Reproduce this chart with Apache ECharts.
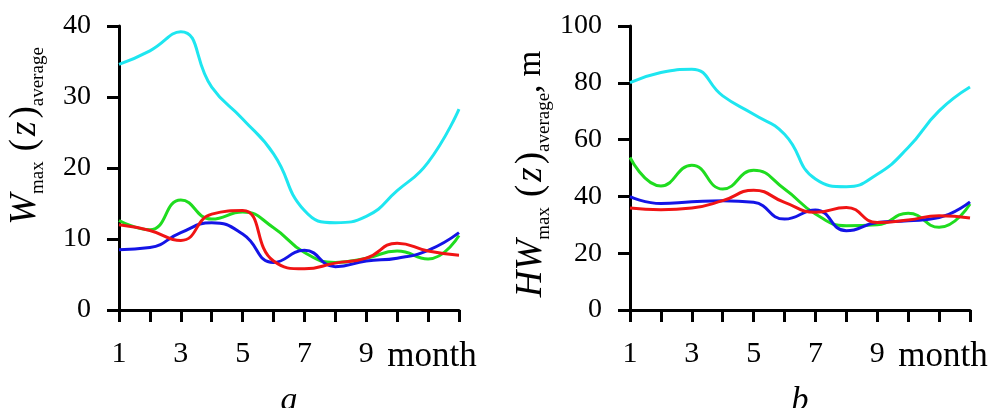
<!DOCTYPE html>
<html>
<head>
<meta charset="utf-8">
<script src="https://cdn.jsdelivr.net/npm/echarts@6/dist/echarts.min.js"></script>
<style>
  html, body { margin: 0; padding: 0; background: #fff; }
  #chart1 { width: 994px; height: 408px; }
</style>
</head>
<body>
<div id="chart1"></div>
<script>
// 月份与刻度标签
const months = [1, 2, 3, 4, 5, 6, 7, 8, 9, 10, 11, 12];
const tickLabels = ['1', '', '3', '', '5', '', '7', '', '9', '', 'month', ''];

// 图 a：W_max(z)_average
const cyanA  = [34.6, 36.5, 39.2, 31.4, 26.9, 22.0, 14.0, 12.3, 13.2, 16.8, 20.8, 28.3];
const greenA = [12.6, 11.3, 15.5, 12.8, 13.8, 11.6, 8.1, 6.7, 7.3, 8.3, 7.2, 10.5];
const blueA  = [8.5, 8.8, 10.9, 12.3, 10.7, 6.7, 8.4, 6.1, 6.9, 7.3, 8.4, 10.9];
const redA   = [12.0, 11.2, 9.8, 13.5, 14.0, 6.9, 5.8, 6.6, 7.3, 9.4, 8.3, 7.7];

// 图 b：HW_max(z)_average, m
const cyanB  = [80.1, 83.6, 84.8, 75.4, 68.9, 61.9, 46.1, 43.4, 47.8, 57.2, 70.1, 78.5];
const greenB = [53.7, 43.7, 51.0, 42.6, 49.2, 42.6, 33.8, 29.7, 30.0, 34.1, 29.1, 37.3];
const blueB  = [39.9, 37.5, 38.1, 38.5, 37.9, 32.0, 35.2, 27.9, 30.8, 31.4, 32.6, 38.1];
const redB   = [35.9, 35.3, 35.9, 38.5, 42.2, 37.9, 34.4, 36.1, 30.8, 31.7, 33.2, 32.4];

const colors = ['#1ee6f0', '#1fdc1f', '#1414e6', '#f01414'];
const serif = 'Liberation Serif';

function pairs(values) {
    return months.map((m, i) => [m, values[i]]);
}

function lineSeries(values, color, idx) {
    return {
        type: 'line',
        xAxisIndex: idx,
        yAxisIndex: idx,
        data: pairs(values),
        smooth: true,
        showSymbol: false,
        lineStyle: { color: color, width: 3 },
        itemStyle: { color: color }
    };
}

function xAxisFor(idx, letter) {
    return {
        type: 'value',
        gridIndex: idx,
        min: 1,
        max: 12,
        interval: 1,
        name: letter,
        nameLocation: 'middle',
        nameGap: 74,
        nameTextStyle: { fontFamily: serif, fontStyle: 'italic', fontSize: 34, color: '#000' },
        axisLine: { lineStyle: { color: '#000', width: 3 } },
        axisTick: { length: 12, lineStyle: { color: '#000', width: 3 } },
        splitLine: { show: false },
        axisLabel: {
            margin: 29,
            color: '#000',
            fontFamily: serif,
            fontSize: 30,
            showMinLabel: true,
            showMaxLabel: true,
            formatter: function (v) {
                const t = tickLabels[v - 1] || '';
                return t === 'month' ? '{m|month}' : t;
            },
            rich: {
                m: { fontFamily: serif, fontSize: 35, color: '#000', padding: [0, 0, 4, 8] }
            }
        }
    };
}

function yAxisFor(idx, max, step) {
    return {
        type: 'value',
        gridIndex: idx,
        min: 0,
        max: max,
        interval: step,
        axisLine: { show: true, lineStyle: { color: '#000', width: 3 } },
        axisTick: { show: true, length: 12, lineStyle: { color: '#000', width: 3 } },
        splitLine: { show: false },
        axisLabel: { margin: 28, color: '#000', fontFamily: serif, fontSize: 28 }
    };
}

const titleRich = {
    i: { fontFamily: serif, fontStyle: 'italic', fontSize: 37, lineHeight: 46, fill: '#000' },
    s: { fontFamily: serif, fontSize: 19, lineHeight: 19, verticalAlign: 'bottom', fill: '#000' },
    p: { fontFamily: serif, fontSize: 37, lineHeight: 46, fill: '#000', padding: [0, 3, 0, 10] },
    q: { fontFamily: serif, fontSize: 37, lineHeight: 46, fill: '#000', padding: [0, 0, 0, 3] },
    u: { fontFamily: serif, fontSize: 33, lineHeight: 46, fill: '#000' }
};

function initChart() {
    const chart = echarts.init(document.getElementById('chart1'), null, { renderer: 'canvas' });

    const option = {
        animation: false,
        backgroundColor: '#fff',
        grid: [
            { left: 119, right: 535, top: 26, bottom: 98, outerBoundsMode: 'none' },
            { left: 630, right: 24, top: 26, bottom: 98, outerBoundsMode: 'none' }
        ],
        xAxis: [xAxisFor(0, 'a'), xAxisFor(1, 'b')],
        yAxis: [yAxisFor(0, 40, 10), yAxisFor(1, 100, 20)],
        series: [
            lineSeries(cyanA, colors[0], 0),
            lineSeries(greenA, colors[1], 0),
            lineSeries(blueA, colors[2], 0),
            lineSeries(redA, colors[3], 0),
            lineSeries(cyanB, colors[0], 1),
            lineSeries(greenB, colors[1], 1),
            lineSeries(blueB, colors[2], 1),
            lineSeries(redB, colors[3], 1)
        ],
        // 纵轴标题（旋转的富文本）
        graphic: [
            {
                type: 'text',
                x: 25,
                y: 136,
                rotation: Math.PI / 2,
                style: {
                    text: '{i|W}{s|max}{p|(}{i|z}{q|)}{s|average}',
                    rich: titleRich,
                    align: 'center',
                    verticalAlign: 'middle'
                }
            },
            {
                type: 'text',
                x: 531,
                y: 174,
                rotation: Math.PI / 2,
                style: {
                    text: '{i|HW}{s|max}{p|(}{i|z}{q|)}{s|average}{u|, m}',
                    rich: titleRich,
                    align: 'center',
                    verticalAlign: 'middle'
                }
            }
        ]
    };

    chart.setOption(option);
}

window.addEventListener('load', initChart);
</script>
</body>
</html>
